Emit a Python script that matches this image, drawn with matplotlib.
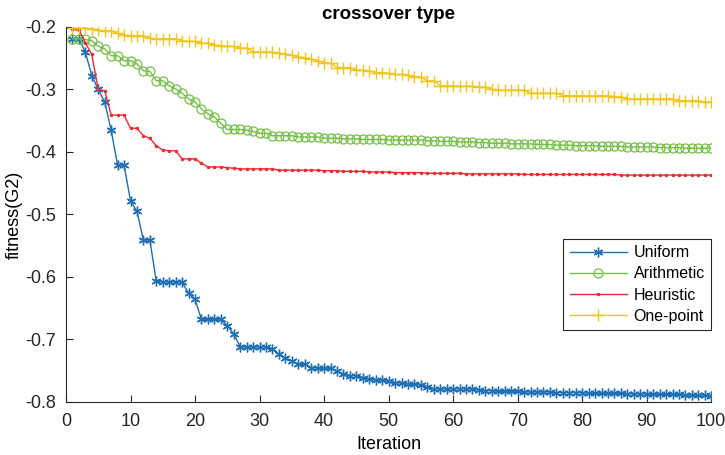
import numpy as np
import matplotlib
matplotlib.use('Agg')
import matplotlib.pyplot as plt

plt.rcParams['font.family'] = ['Liberation Sans', 'DejaVu Sans']

# Best fitness per iteration for each crossover type
iterations = np.arange(1, 101)

uniform = [
    -0.219, -0.219, -0.240, -0.278, -0.300, -0.320, -0.365, -0.421, -0.421, -0.478,
    -0.495, -0.541, -0.541, -0.607, -0.608, -0.608, -0.608, -0.608, -0.626, -0.636,
    -0.668, -0.668, -0.668, -0.668, -0.678, -0.691, -0.712, -0.712, -0.712, -0.712,
    -0.712, -0.715, -0.724, -0.730, -0.734, -0.740, -0.740, -0.745, -0.746, -0.746,
    -0.746, -0.751, -0.755, -0.758, -0.758, -0.761, -0.763, -0.765, -0.765, -0.767,
    -0.769, -0.770, -0.771, -0.772, -0.773, -0.776, -0.779, -0.779, -0.779, -0.779,
    -0.779, -0.779, -0.779, -0.781, -0.782, -0.782, -0.783, -0.783, -0.783, -0.783,
    -0.784, -0.784, -0.784, -0.784, -0.784, -0.785, -0.785, -0.785, -0.785, -0.785,
    -0.786, -0.786, -0.786, -0.786, -0.786, -0.786, -0.787, -0.787, -0.787, -0.787,
    -0.788, -0.788, -0.788, -0.788, -0.788, -0.789, -0.789, -0.789, -0.789, -0.790,
]

arithmetic = [
    -0.219, -0.219, -0.220, -0.222, -0.231, -0.235, -0.246, -0.246, -0.254, -0.254,
    -0.259, -0.270, -0.271, -0.286, -0.286, -0.294, -0.299, -0.306, -0.315, -0.320,
    -0.331, -0.339, -0.344, -0.354, -0.364, -0.364, -0.364, -0.365, -0.367, -0.370,
    -0.370, -0.374, -0.374, -0.374, -0.374, -0.376, -0.376, -0.376, -0.376, -0.378,
    -0.378, -0.378, -0.379, -0.379, -0.379, -0.380, -0.380, -0.380, -0.380, -0.381,
    -0.381, -0.381, -0.381, -0.381, -0.381, -0.382, -0.382, -0.383, -0.383, -0.383,
    -0.384, -0.384, -0.384, -0.385, -0.385, -0.386, -0.386, -0.386, -0.387, -0.387,
    -0.387, -0.387, -0.388, -0.388, -0.388, -0.389, -0.389, -0.389, -0.390, -0.390,
    -0.390, -0.390, -0.391, -0.391, -0.391, -0.391, -0.392, -0.392, -0.392, -0.392,
    -0.392, -0.393, -0.393, -0.393, -0.393, -0.394, -0.394, -0.394, -0.394, -0.394,
]

heuristic = [
    -0.204, -0.205, -0.225, -0.244, -0.300, -0.302, -0.341, -0.341, -0.341, -0.362,
    -0.362, -0.374, -0.378, -0.390, -0.397, -0.398, -0.398, -0.411, -0.411, -0.411,
    -0.418, -0.424, -0.424, -0.424, -0.425, -0.426, -0.427, -0.427, -0.427, -0.427,
    -0.427, -0.427, -0.429, -0.429, -0.429, -0.429, -0.429, -0.429, -0.429, -0.430,
    -0.430, -0.430, -0.431, -0.431, -0.431, -0.431, -0.432, -0.432, -0.432, -0.432,
    -0.433, -0.433, -0.433, -0.433, -0.433, -0.434, -0.434, -0.434, -0.434, -0.434,
    -0.434, -0.435, -0.435, -0.435, -0.435, -0.435, -0.435, -0.435, -0.435, -0.435,
    -0.436, -0.436, -0.436, -0.436, -0.436, -0.436, -0.436, -0.436, -0.436, -0.436,
    -0.436, -0.436, -0.436, -0.436, -0.436, -0.437, -0.437, -0.437, -0.437, -0.437,
    -0.437, -0.437, -0.437, -0.437, -0.437, -0.437, -0.437, -0.437, -0.437, -0.437,
]

one_point = [
    -0.202, -0.202, -0.202, -0.203, -0.205, -0.206, -0.206, -0.210, -0.213, -0.214,
    -0.214, -0.214, -0.218, -0.219, -0.219, -0.219, -0.219, -0.222, -0.223, -0.223,
    -0.226, -0.226, -0.229, -0.230, -0.231, -0.231, -0.234, -0.234, -0.240, -0.240,
    -0.240, -0.240, -0.242, -0.244, -0.245, -0.248, -0.249, -0.251, -0.254, -0.257,
    -0.258, -0.265, -0.265, -0.265, -0.269, -0.269, -0.270, -0.273, -0.273, -0.274,
    -0.276, -0.276, -0.277, -0.280, -0.280, -0.286, -0.286, -0.294, -0.294, -0.294,
    -0.295, -0.295, -0.295, -0.296, -0.296, -0.300, -0.301, -0.301, -0.301, -0.301,
    -0.301, -0.306, -0.306, -0.306, -0.306, -0.306, -0.310, -0.310, -0.310, -0.310,
    -0.310, -0.310, -0.310, -0.310, -0.3115, -0.3115, -0.315, -0.315, -0.315, -0.315,
    -0.315, -0.315, -0.315, -0.315, -0.318, -0.318, -0.318, -0.318, -0.320, -0.320,
]

fig = plt.figure(figsize=(7.25, 4.55), dpi=100)
ax = fig.add_axes([0.091, 0.1165, 0.89, 0.8242])

# asterisk marker like the MATLAB '*'
asterisk = (6, 2, 0)
ax.plot(iterations, uniform, color='#1f6fb5', lw=1.0, marker=asterisk, ms=7, mew=1.0,
        label='Uniform')
ax.plot(iterations, arithmetic, color='#74bf46', lw=1.0, marker='o', ms=6.5,
        mfc='none', mew=0.9, label='Arithmetic')
ax.plot(iterations, heuristic, color='#ef2a2f', lw=1.0, marker='.', ms=3, label='Heuristic')
ax.plot(iterations, one_point, color='#f2c51c', lw=1.0, marker='+', ms=8, mew=1.0,
        label='One-point')

ax.set_xlim(0, 100)
ax.set_ylim(-0.8, -0.2)
ax.set_xticks(np.arange(0, 101, 10))
ax.set_yticks([-0.8, -0.7, -0.6, -0.5, -0.4, -0.3, -0.2])
ax.set_yticklabels(['-0.8', '-0.7', '-0.6', '-0.5', '-0.4', '-0.3', '-0.2'])
ax.tick_params(direction='in', labelsize=13, length=5, width=0.8, colors='#262626')
ax.tick_params(axis='x', pad=8)
ax.tick_params(axis='y', pad=7)
ax.spines['top'].set_visible(False)
ax.spines['right'].set_visible(False)
for s in ('left', 'bottom'):
    ax.spines[s].set_color('#262626')
    ax.spines[s].set_linewidth(0.8)

ax.set_xlabel('Iteration', fontsize=13, labelpad=4)
ax.set_ylabel('fitness(G2)', fontsize=13, labelpad=2)
ax.set_title('crossover type', fontsize=13.5, fontweight='bold', pad=6)

leg = ax.legend(loc='lower right', bbox_to_anchor=(1.0, 0.192), borderaxespad=0,
                fontsize=11.5, numpoints=1, handlelength=3.6, fancybox=False,
                framealpha=1, borderpad=0.4, labelspacing=0.38, handletextpad=0.4)
leg.get_frame().set_edgecolor('#262626')
leg.get_frame().set_linewidth(0.8)

fig.savefig('out.png', dpi=100)
